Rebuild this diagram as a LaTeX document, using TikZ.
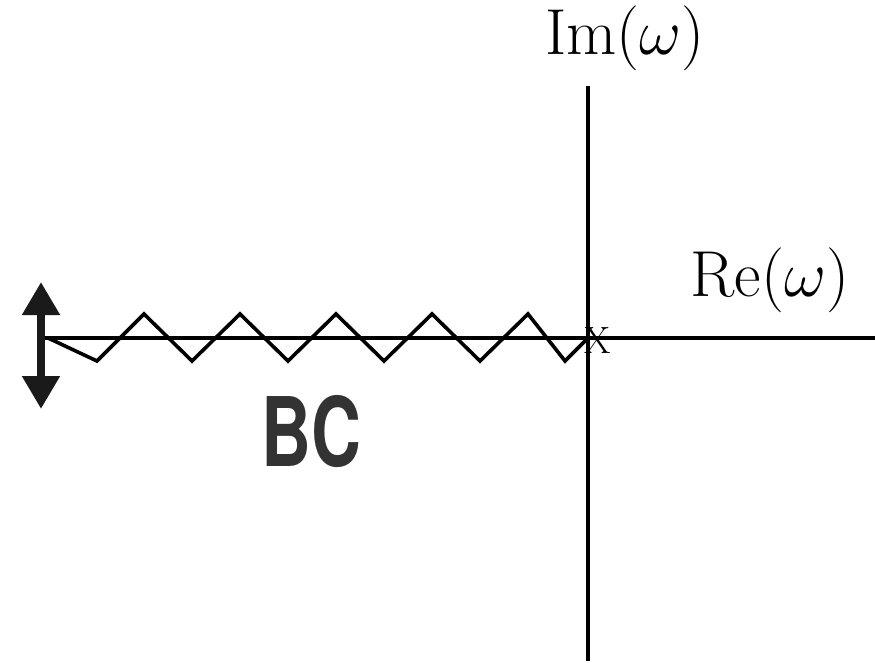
\RequirePackage{fix-cm}
\documentclass[tikz,border=0pt]{standalone}
\usepackage{fontspec}
\newfontfamily\bcfont[FakeStretch=0.72]{TeX Gyre Heros}
\usetikzlibrary{arrows.meta}
\definecolor{bcgray}{HTML}{333333}
\definecolor{arrowblk}{HTML}{1A1A1A}
\tikzset{
  axis/.style={line width=4pt, black},
  zig/.style={line width=3.6pt, black, line join=miter},
  bigarrow/.style={line width=8pt, arrowblk,
    {Triangle[width=36pt,length=33pt]}-{Triangle[width=36pt,length=33pt]}},
  biglabel/.style={inner sep=0pt, font=\fontsize{65}{76}\selectfont},
}
\begin{document}
\begin{tikzpicture}[x=1pt,y=-1pt]
\useasboundingbox (0,0) rectangle (875,663);
% axes
\coordinate (hl) at (38,338);
\coordinate (hr) at (875,338);
\coordinate (vt) at (588,86);
\coordinate (vb) at (588,661);
\draw[axis] (hl) -- (hr);
\draw[axis] (vt) -- (vb);
% zigzag branch cut
\coordinate (z0) at (48,338);
\coordinate (z1) at (97,361);
\coordinate (z2) at (144,314);
\coordinate (z3) at (192,361);
\coordinate (z4) at (240,314);
\coordinate (z5) at (288,361);
\coordinate (z6) at (336,314);
\coordinate (z7) at (384,361);
\coordinate (z8) at (432,314);
\coordinate (z9) at (480,361);
\coordinate (z10) at (528,314);
\coordinate (z11) at (565,361);
\coordinate (z12) at (588,338);
\draw[zig] (z0) -- (z1) -- (z2) -- (z3) -- (z4) -- (z5) -- (z6) -- (z7) -- (z8) -- (z9) -- (z10) -- (z11) -- (z12);
% double arrow
\coordinate (at) at (41,282);
\coordinate (ab) at (41,409);
\draw[bigarrow] (ab) -- (at);
% labels
\node[biglabel, anchor=base] (im) at (625,55) {$\mathrm{Im}(\omega)$};
\node[biglabel, anchor=base] (re) at (770,296) {$\mathrm{Re}(\omega)$};
\node[inner sep=0pt, anchor=base, font=\fontsize{38}{40}\selectfont] (x) at (598,353) {X};
\node[inner sep=0pt, anchor=base, text=bcgray, font=\bcfont\bfseries\fontsize{96}{100}\selectfont] (bc) at (311,466) {BC};
\end{tikzpicture}
\end{document}
